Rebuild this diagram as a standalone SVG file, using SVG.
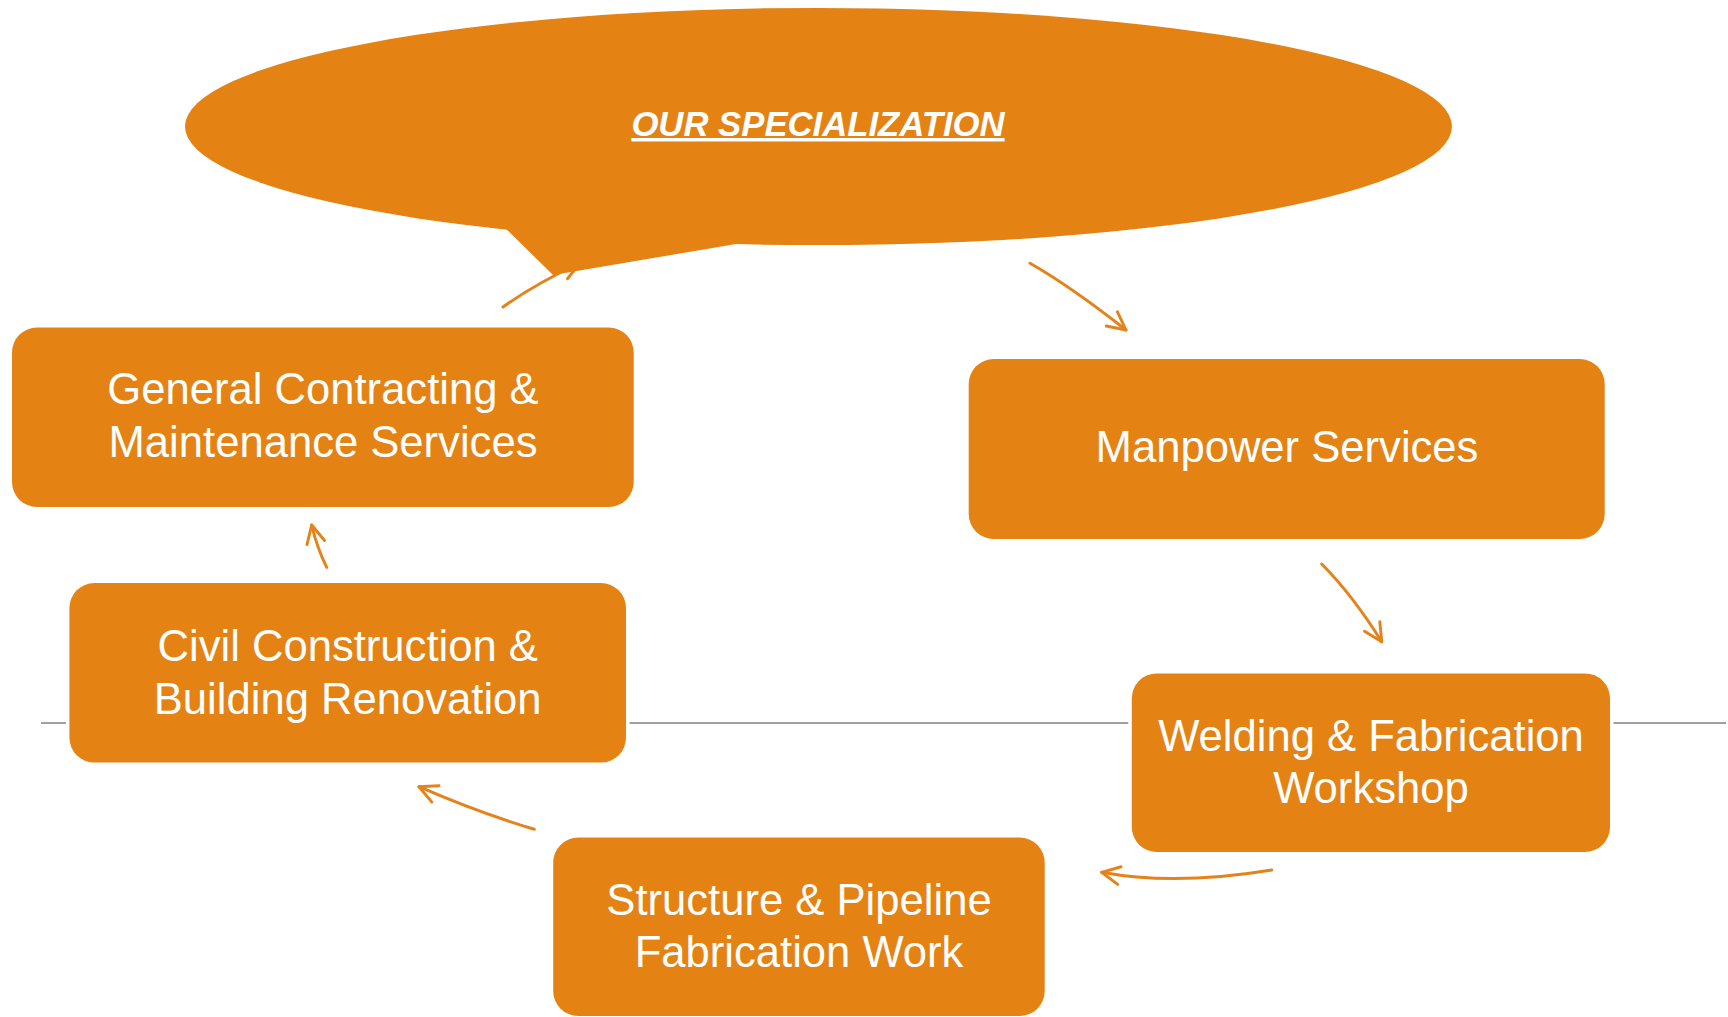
<svg xmlns="http://www.w3.org/2000/svg" width="1728" height="1017" viewBox="0 0 1728 1017">
<style>
.box{fill:#E48314;stroke:#FFFFFF;stroke-width:7;paint-order:stroke}
.lbl{font-family:"Liberation Sans",Arial,sans-serif;font-size:43.6px;fill:#FFFFFF;text-anchor:middle}
.title{font-family:"Liberation Sans",Arial,sans-serif;font-size:34.7px;font-weight:bold;font-style:italic;fill:#FFFFFF;text-anchor:middle;text-decoration:underline}
.conn{fill:none;stroke:#E4831A;stroke-width:3;stroke-linecap:round;marker-end:url(#arr)}
.rule{stroke:#808080;stroke-width:1.6}
</style>
<defs>
<marker id="arr" viewBox="0 0 10 10" refX="9" refY="5" markerWidth="7.5" markerHeight="7.5" orient="auto" markerUnits="strokeWidth">
<path d="M1,1 L9,5 L1,9" fill="none" stroke="#E4831A" stroke-width="1.3" stroke-linecap="round" stroke-linejoin="round"/>
</marker>
</defs>
<rect width="1728" height="1017" fill="#FFFFFF"/>
<line class="rule" x1="41" y1="723" x2="1726" y2="723"/>
<g id="connectors">
<path class="conn" d="M503,307 Q535,284 580,263"/>
<path class="conn" d="M1030,263.3 Q1070,286 1126,330"/>
<path class="conn" d="M1321.7,564 Q1352.5,595 1381.7,641.7"/>
<path class="conn" d="M1271.7,870 Q1175,886 1101.7,872.3"/>
<path class="conn" d="M534.3,829.3 Q476.7,812 419,786.7"/>
<path class="conn" d="M326.7,567.3 Q317,548 311.7,525"/>
</g>
<g id="node-specialization">
<ellipse cx="818.5" cy="126.5" rx="633.5" ry="118.6" fill="#E48314"/>
<polygon points="506.7,229.5 553,275 736,244 700,200 560,200" fill="#E48314"/>
<text class="title" x="818" y="136">OUR SPECIALIZATION</text>
</g>
<g id="node-general">
<rect class="box" x="12" y="327.5" width="621.7" height="179.5" rx="25"/>
<text class="lbl" x="323" y="404">General Contracting &amp;</text>
<text class="lbl" x="323" y="457">Maintenance Services</text>
</g>
<g id="node-manpower">
<rect class="box" x="968.7" y="359" width="636" height="180" rx="25"/>
<text class="lbl" x="1287" y="462">Manpower Services</text>
</g>
<g id="node-welding">
<rect class="box" x="1131.8" y="673.4" width="478.2" height="178.6" rx="25"/>
<text class="lbl" x="1371" y="751">Welding &amp; Fabrication</text>
<text class="lbl" x="1371" y="803">Workshop</text>
</g>
<g id="node-structure">
<rect class="box" x="553.2" y="837.6" width="491.5" height="178.4" rx="25"/>
<text class="lbl" x="799" y="915">Structure &amp; Pipeline</text>
<text class="lbl" x="799" y="967">Fabrication Work</text>
</g>
<g id="node-civil">
<rect class="box" x="69.4" y="583" width="556.6" height="179.6" rx="25"/>
<text class="lbl" x="347.7" y="661">Civil Construction &amp;</text>
<text class="lbl" x="347.7" y="714">Building Renovation</text>
</g>
</svg>
